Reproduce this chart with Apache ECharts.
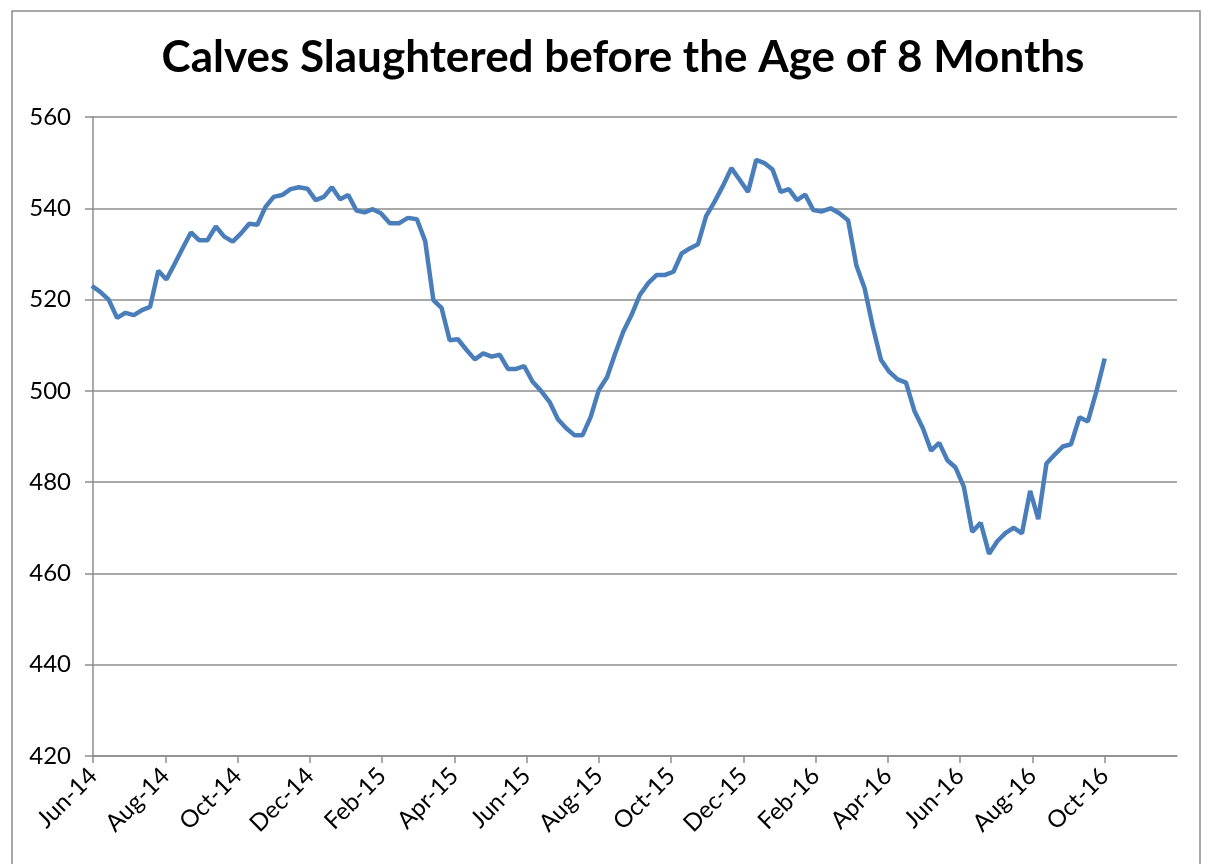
<!DOCTYPE html>
<html>
<head>
<meta charset="utf-8">
<script src="https://cdn.jsdelivr.net/npm/echarts@6/dist/echarts.min.js"></script>
<style>
  html, body { margin: 0; padding: 0; background: #fff; }
  #chart { width: 1209px; height: 864px; }
</style>
</head>
<body>
<div id="chart"></div>
<script>
// weekly observations, first week ending 31 May 2014
var firstWeek = '2014-05-31';

var calves = [
  523.0, 521.7, 520.0, 516.0, 517.1, 516.6, 517.7, 518.4, 526.3, 524.4,
  527.8, 531.3, 534.7, 533.0, 533.0, 536.0, 533.8, 532.7, 534.5, 536.6,
  536.4, 540.3, 542.5, 542.9, 544.2, 544.6, 544.3, 541.8, 542.5, 544.6,
  542.0, 542.9, 539.5, 539.1, 539.8, 538.9, 536.7, 536.7, 537.9, 537.6,
  532.8, 519.9, 518.2, 511.1, 511.3, 509.0, 506.9, 508.2, 507.5, 507.9,
  504.8, 504.8, 505.4, 502.0, 500.0, 497.6, 493.8, 491.8, 490.3, 490.3,
  494.3, 500.2, 503.0, 508.2, 513.0, 516.6, 521.0, 523.6, 525.4, 525.4,
  526.1, 530.1, 531.2, 532.1, 538.3, 541.4, 544.9, 548.8, 546.2, 543.6,
  550.6, 549.9, 548.5, 543.6, 544.2, 541.8, 543.0, 539.6, 539.3, 540.0,
  538.9, 537.4, 527.4, 522.5, 514.1, 506.8, 504.2, 502.5, 501.8, 495.6,
  491.8, 486.9, 488.6, 484.8, 483.2, 479.0, 469.1, 471.1, 464.3, 467.1,
  468.9, 470.0, 468.8, 478.1, 471.9, 484.1, 486.0, 487.8, 488.3, 494.2,
  493.3, 499.8, 507.1
];

var tickLabels = ['Jun-14', 'Aug-14', 'Oct-14', 'Dec-14', 'Feb-15', 'Apr-15', 'Jun-15',
  'Aug-15', 'Oct-15', 'Dec-15', 'Feb-16', 'Apr-16', 'Jun-16', 'Aug-16', 'Oct-16'];

// x position = months since 1 Jun 2014 (fractional)
function monthsFromStart(d) {
  var y = d.getUTCFullYear(), m = d.getUTCMonth();
  var days = new Date(Date.UTC(y, m + 1, 0)).getUTCDate();
  return (y - 2014) * 12 + (m - 5) + (d.getUTCDate() - 1) / days;
}

var start = new Date(firstWeek + 'T00:00:00Z');
var points = calves.map(function (v, i) {
  var d = new Date(start.getTime() + i * 7 * 86400000);
  return [monthsFromStart(d), v];
});
var tickVals = tickLabels.map(function (t, i) { return i * 2; });

var myChart = echarts.init(document.getElementById('chart'));
var font = 'Lato, "Open Sans", sans-serif';
myChart.setOption({
  animation: false,
  title: {
    text: 'Calves Slaughtered before the Age of 8 Months',
    left: 618, top: 31, textAlign: 'center',
    textStyle: { fontFamily: font, fontWeight: 'bold', fontSize: 44, color: '#000' }
  },
  grid: { left: 93, right: 32, top: 117, bottom: 108, containLabel: false },
  xAxis: {
    type: 'value', min: 0, max: 30, interval: 2,
    axisLine: { lineStyle: { color: '#8c8c8c', width: 1.5 } },
    axisTick: { show: true, length: 7, customValues: tickVals, lineStyle: { color: '#8c8c8c', width: 1.5 } },
    splitLine: { show: false },
    axisLabel: {
      customValues: tickVals,
      rotate: 45, margin: 16,
      fontFamily: font, fontSize: 24, color: '#000',
      formatter: function (v) { return tickLabels[Math.round(v / 2)] || ''; }
    }
  },
  yAxis: {
    type: 'value', min: 420, max: 560, interval: 20,
    axisLine: { show: true, lineStyle: { color: '#8c8c8c', width: 1.5 } },
    axisTick: { show: true, length: 8, lineStyle: { color: '#8c8c8c', width: 1.5 } },
    splitLine: { lineStyle: { color: '#8c8c8c', width: 1.5 } },
    axisLabel: { margin: 22, fontFamily: font, fontSize: 24, color: '#000' }
  },
  series: [{
    type: 'line',
    data: points,
    showSymbol: false,
    lineStyle: { color: '#4a7ebb', width: 4.5 },
    itemStyle: { color: '#4a7ebb' }
  }],
  graphic: [{
    type: 'rect', silent: true,
    shape: { x: 12, y: 11, width: 1188, height: 880 },
    style: { fill: 'none', stroke: '#8c8c8c', lineWidth: 1.5 }
  }]
});
</script>
</body>
</html>
